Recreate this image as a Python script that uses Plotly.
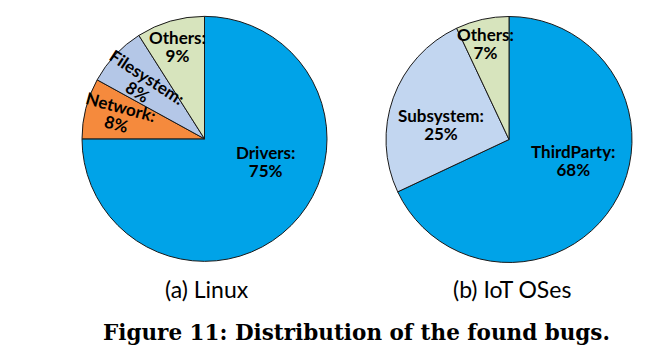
import math
import plotly.graph_objects as go

# ---- data ----
linux_labels = ["Drivers", "Network", "Filesystem", "Others"]
linux_values = [75, 8, 8, 9]
iot_labels = ["ThirdParty", "Subsystem", "Others"]
iot_values = [68, 25, 7]
captions = ["(a) Linux", "(b) IoT OSes"]
title_text = "Figure 11: Distribution of the found bugs."

# ---- style ----
W, H = 672, 364
linux_colors = ["#00A3E8", "#F58A3D", "#B4C7E7", "#D7E4BD"]
iot_colors = ["#00A3E8", "#C2D6F0", "#D7E4BD"]
# label placement (pixel centre of first line, rotation in degrees)
linux_label_pos = [(265, 153, 0), (121, 107, 15), (147, 77, 33), (177, 38, 0)]
iot_label_pos = [(573, 152, 0), (441, 116, 0), (485, 35, 0)]
LINE_GAP = 17.5


def px(x, y):
    return x / W, 1 - y / H


fig = go.Figure()
for vals, labs, cols, dom in [
    (linux_values, linux_labels, linux_colors, ([82 / W, 327 / W], [1 - 262 / H, 1 - 15.7 / H])),
    (iot_values, iot_labels, iot_colors, ([386 / W, 632 / W], [1 - 262.5 / H, 1 - 16.5 / H])),
]:
    fig.add_trace(go.Pie(
        values=vals, labels=labs, sort=False, direction="clockwise", rotation=0,
        marker=dict(colors=cols, line=dict(color="#1a1a1a", width=1)),
        textinfo="none", hoverinfo="label+percent", showlegend=False,
        domain=dict(x=dom[0], y=dom[1]),
    ))

annotations = []
for labs, vals, poss in [(linux_labels, linux_values, linux_label_pos),
                         (iot_labels, iot_values, iot_label_pos)]:
    for lab, val, (x, y, ang) in zip(labs, vals, poss):
        a = math.radians(ang)
        # centre of the two-line block
        cx = x - math.sin(a) * LINE_GAP / 2
        cy = y + math.cos(a) * LINE_GAP / 2
        xp, yp = px(cx, cy)
        txt = (f"<span style='font-size:17px'><b>{lab}:</b></span><br>"
               f"<span style='font-size:17px'><b>{val}%</b></span>")
        annotations.append(dict(
            x=xp, y=yp, xref="paper", yref="paper", text=txt, showarrow=False,
            xanchor="center", yanchor="middle", textangle=ang,
            font=dict(family="Lato", size=LINE_GAP / 1.3, color="black"),
        ))

for cap, cx in zip(captions, [207, 512]):
    xp, yp = px(cx, 289)
    annotations.append(dict(x=xp, y=yp, xref="paper", yref="paper", text=cap,
                            showarrow=False, xanchor="center", yanchor="middle",
                            font=dict(family="Lato", size=23, color="black")))

xp, yp = px(356, 332)
annotations.append(dict(x=xp, y=yp, xref="paper", yref="paper", text=f"<b>{title_text}</b>",
                        showarrow=False, xanchor="center", yanchor="middle",
                        font=dict(family="DejaVu Serif", size=21.5, color="black")))

fig.update_layout(
    width=W, height=H, margin=dict(l=0, r=0, t=0, b=0),
    paper_bgcolor="white", plot_bgcolor="white", annotations=annotations,
)
fig.write_html("out.html", config={"displayModeBar": False},
               post_script="document.body.style.margin='0';document.body.style.padding='0';")
